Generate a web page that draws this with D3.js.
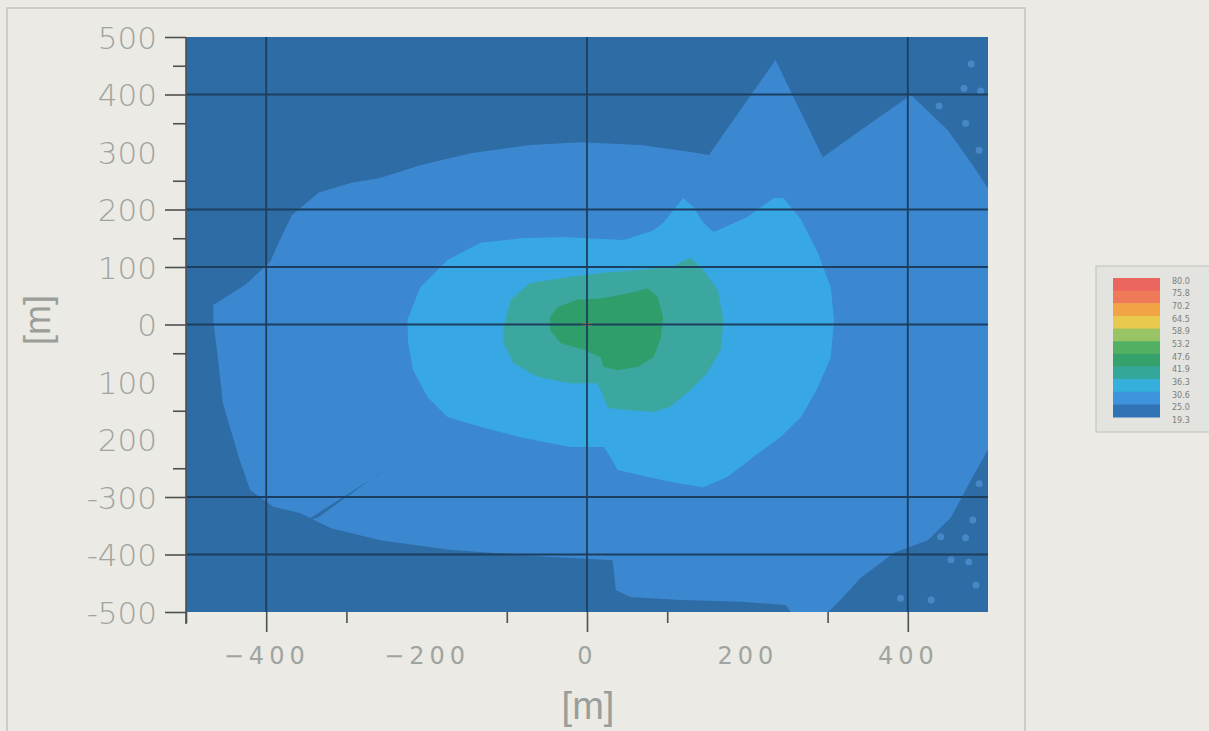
<!DOCTYPE html>
<html>
<head>
<meta charset="utf-8">
<script src="https://cdn.jsdelivr.net/npm/d3@7"></script>
<style>
  html, body { margin: 0; padding: 0; background: #ebeae5; }
  svg { display: block; }
</style>
</head>
<body>
<script>
// contour bands, polygons in metres [x, y]
const band25 = [[-466,34],[-426,69],[-395,109],[-383,147],[-368,190],[-335,229],[-295,246],[-258,255],[-208,277],[-145,298],[-71,312],[-8,317],[67,312],[129,300],[152,295],[235,460],[294,291],[341,338],[404,399],[450,338],[479,281],[500,237],[500,-218],[479,-270],[454,-335],[425,-375],[383,-397],[341,-441],[316,-479],[301,-500],[254,-500],[248,-488],[192,-482],[117,-479],[54,-474],[36,-462],[32,-410],[-58,-403],[-170,-392],[-258,-375],[-320,-354],[-358,-328],[-391,-317],[-420,-288],[-433,-236],[-454,-137],[-461,-50],[-466,8]];
const band31 = [[-224,8],[-208,65],[-174,112],[-133,142],[-83,150],[-29,152],[1,150],[46,147],[83,164],[95,177],[120,220],[133,204],[145,177],[158,161],[200,187],[233,220],[245,220],[267,182],[288,124],[304,65],[308,8],[304,-57],[288,-109],[267,-161],[241,-196],[208,-230],[175,-265],[145,-283],[113,-276],[76,-265],[38,-253],[29,-230],[21,-213],[-21,-213],[-83,-196],[-133,-178],[-174,-161],[-199,-126],[-217,-79],[-223,-32]];
const band36 = [[-104,-4],[-95,43],[-71,72],[-21,83],[21,90],[63,95],[104,100],[129,116],[145,95],[163,60],[170,8],[167,-44],[150,-84],[129,-114],[104,-143],[83,-152],[54,-149],[26,-145],[17,-114],[13,-102],[-21,-102],[-62,-91],[-92,-67],[-104,-32]];
const band42 = [[-46,13],[-37,30],[-12,43],[21,46],[54,55],[76,63],[88,48],[95,13],[92,-22],[83,-57],[63,-74],[38,-79],[21,-74],[17,-57],[-4,-44],[-33,-32],[-46,-10]];
const wedge = [[-352,-343],[-250,-252],[-262,-262],[-335,-335]];
const speckles = [[479,453],[470,411],[491,406],[439,380],[472,350],[489,303],[489,-277],[481,-340],[441,-369],[472,-371],[454,-409],[476,-413],[485,-453],[429,-479],[391,-476]];
const peak = [[0,0]];

// axes
const yMajorTicks = [500, 400, 200, 100, 0, -300, -400, -500];
const yMinorTicks = [450, 350, 250, 150, -50, -150, -250];
const yLabelValues = [500, 400, 300, 200, 100, 0, -100, -200, -300, -400, -500];
const yLabelText = ['500', '400', '300', '200', '100', '0', '100', '200', '-300', '-400', '-500'];
const xMajorTicks = [-400, 0, 400];
const xMinorTicks = [-500, -300, -100, 100, 300];
const xLabelValues = [-400, -200, 0, 200, 400];
const xLabelText = ['−400', '−200', '0', '200', '400'];
const gridX = [-400, 0, 400];
const gridY = [400, 200, 100, 0, -300, -400];

// legend
const legendLabels = ['80.0', '75.8', '70.2', '64.5', '58.9', '53.2', '47.6', '41.9', '36.3', '30.6', '25.0', '19.3'];
const legendColors = ['#ec6660', '#ef7a5a', '#f2a444', '#e9c94e', '#98c464', '#52b062', '#34a26a', '#33a89a', '#35b0dc', '#3c94dc', '#3174b6'];

const render = () => {
  const width = 1209;
  const height = 731;
  const plot = { left: 186, right: 988, top: 37, bottom: 612 };

  const svg = d3.select('body').append('svg')
    .attr('width', width)
    .attr('height', height);

  // outer frame of the scanned sheet
  svg.append('rect')
    .attr('x', 7).attr('y', 8)
    .attr('width', 1018).attr('height', 740)
    .attr('fill', 'none')
    .attr('stroke', '#c3c3bf')
    .attr('stroke-width', 1.5);

  const xScale = d3.scaleLinear().domain([-500, 500]).range([plot.left, plot.right]);
  const yScale = d3.scaleLinear().domain([-500, 500]).range([plot.bottom, plot.top]);

  const line = d3.line()
    .x(d => xScale(d[0]))
    .y(d => yScale(d[1]))
    .curve(d3.curveLinearClosed);

  const map = svg.append('g').attr('id', 'map');

  // lowest band fills the whole plot
  map.append('rect')
    .attr('x', xScale(-500)).attr('y', yScale(500))
    .attr('width', xScale(500) - xScale(-500))
    .attr('height', yScale(-500) - yScale(500))
    .attr('fill', '#2e6ca5');

  map.selectAll('circle.speck').data(speckles)
    .enter().append('circle')
    .attr('class', 'speck')
    .attr('cx', d => xScale(d[0]))
    .attr('cy', d => yScale(d[1]))
    .attr('r', 3.5)
    .attr('fill', '#4a8ccc')
    .attr('opacity', 0.85);

  const bands = [
    { poly: band25, color: '#3b87d0' },
    { poly: wedge, color: '#2e6ca5' },
    { poly: band31, color: '#38a8e4' },
    { poly: band36, color: '#3ba79f' },
    { poly: band42, color: '#2f9e6b' }
  ];

  map.selectAll('path.band').data(bands)
    .enter().append('path')
    .attr('class', 'band')
    .attr('d', d => line(d.poly))
    .attr('fill', d => d.color);

  map.selectAll('ellipse.peak').data(peak)
    .enter().append('ellipse')
    .attr('cx', d => xScale(d[0]))
    .attr('cy', d => yScale(d[1]))
    .attr('rx', 6).attr('ry', 1.6)
    .attr('fill', '#e8a030');

  // grid lines
  const gridColor = '#1c3f5f';
  map.selectAll('line.gx').data(gridX)
    .enter().append('line')
    .attr('class', 'gx')
    .attr('x1', d => xScale(d)).attr('x2', d => xScale(d))
    .attr('y1', yScale(500)).attr('y2', yScale(-500))
    .attr('stroke', gridColor).attr('stroke-width', 1.8);
  map.selectAll('line.gy').data(gridY)
    .enter().append('line')
    .attr('class', 'gy')
    .attr('x1', xScale(-500)).attr('x2', xScale(500))
    .attr('y1', d => yScale(d)).attr('y2', d => yScale(d))
    .attr('stroke', gridColor).attr('stroke-width', 1.8);

  // axes (ticks)
  const tickColor = '#4d514f';
  const styleAxis = g => {
    g.selectAll('line').attr('stroke', tickColor).attr('stroke-width', 1.6);
    g.selectAll('.domain').remove();
  };

  svg.append('g').attr('transform', `translate(${plot.left},0)`)
    .call(d3.axisLeft(yScale).tickValues(yMajorTicks).tickSize(21).tickFormat(''))
    .call(styleAxis);
  svg.append('g').attr('transform', `translate(${plot.left},0)`)
    .call(d3.axisLeft(yScale).tickValues(yMinorTicks).tickSize(13).tickFormat(''))
    .call(styleAxis);
  svg.append('g').attr('transform', `translate(0,${plot.bottom})`)
    .call(d3.axisBottom(xScale).tickValues(xMajorTicks).tickSize(20).tickFormat(''))
    .call(styleAxis);
  svg.append('g').attr('transform', `translate(0,${plot.bottom})`)
    .call(d3.axisBottom(xScale).tickValues(xMinorTicks).tickSize(11).tickFormat(''))
    .call(styleAxis);

  // axis line
  svg.append('line')
    .attr('x1', plot.left).attr('x2', plot.left)
    .attr('y1', plot.top).attr('y2', plot.bottom + 12)
    .attr('stroke', tickColor).attr('stroke-width', 1.6);

  // tick labels
  const labelColor = '#a0a4a0';
  const yLabels = svg.append('g')
    .attr('transform', `translate(${plot.left},0)`)
    .call(d3.axisLeft(yScale).tickValues(yLabelValues).tickSize(0).tickPadding(29)
      .tickFormat((d, i) => yLabelText[i]));
  yLabels.select('.domain').remove();
  yLabels.selectAll('text')
    .attr('fill', labelColor)
    .attr('font-family', 'DejaVu Sans')
    .attr('font-weight', 300)
    .attr('font-size', 31)
    .attr('dy', '0.36em');

  const xLabels = svg.append('g')
    .attr('transform', `translate(0,${plot.bottom})`)
    .call(d3.axisBottom(xScale).tickValues(xLabelValues).tickSize(0).tickPadding(50)
      .tickFormat((d, i) => xLabelText[i]));
  xLabels.select('.domain').remove();
  xLabels.selectAll('text')
    .attr('fill', labelColor)
    .attr('font-family', 'DejaVu Sans')
    .attr('font-size', 24)
    .attr('letter-spacing', 5)
    .attr('dy', '0.1em');

  // axis titles
  svg.append('text')
    .attr('x', 588).attr('y', 719)
    .attr('text-anchor', 'middle')
    .attr('font-family', 'Liberation Sans')
    .attr('font-size', 38)
    .attr('fill', '#9a9e9a')
    .text('[m]');
  svg.append('text')
    .attr('transform', 'translate(50,320) rotate(-90)')
    .attr('text-anchor', 'middle')
    .attr('font-family', 'Liberation Sans')
    .attr('font-size', 36)
    .attr('fill', '#9a9e9a')
    .text('[m]');

  // legend
  const legend = svg.append('g').attr('id', 'legend');
  legend.append('rect')
    .attr('x', 1096).attr('y', 266)
    .attr('width', 125).attr('height', 166)
    .attr('fill', '#e3e3df')
    .attr('stroke', '#c6c6c2')
    .attr('stroke-width', 1.2);

  const legendBand = d3.scaleBand()
    .domain(d3.range(legendColors.length))
    .range([278, 417]);
  legend.selectAll('rect.swatch').data(legendColors)
    .enter().append('rect')
    .attr('class', 'swatch')
    .attr('x', 1113)
    .attr('y', (d, i) => legendBand(i))
    .attr('width', 47)
    .attr('height', legendBand.bandwidth() + 0.5)
    .attr('fill', d => d);

  const legendY = d3.scaleLinear()
    .domain([0, legendLabels.length - 1])
    .range([281, 420]);
  legend.selectAll('text').data(legendLabels)
    .enter().append('text')
    .attr('x', 1172)
    .attr('y', (d, i) => legendY(i))
    .attr('dy', '0.35em')
    .attr('font-family', 'DejaVu Sans')
    .attr('font-size', 8)
    .attr('fill', '#7c807c')
    .text(d => d);
};

render();
</script>
</body>
</html>
